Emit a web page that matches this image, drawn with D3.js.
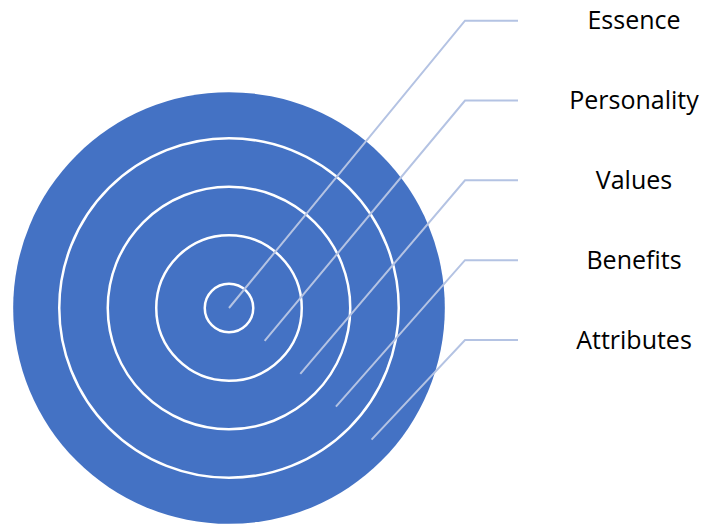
<!DOCTYPE html>
<html>
<head>
<meta charset="utf-8">
<script src="https://cdn.jsdelivr.net/npm/d3@7"></script>
<style>
	body { margin: 0; background: #fff; }
	svg { display: block; }
	text { font-family: "Open Sans", sans-serif; font-size: 25px; fill: #000; }
</style>
</head>
<body>
<div id="chart"></div>
<script>
// levels from the core outwards
var levels = ["Essence", "Personality", "Values", "Benefits", "Attributes"];
// ring boundaries in level units (white rings), and the outer edge of the disc
var ringBounds = [0.5, 1.5, 2.5, 3.5];
var outerBound = 4.45;
// where each leader line starts, in level units from the centre
var pointerDepth = [0, 1, 2, 3, 4];

var width = 704, height = 525;
var cx = 229, cy = 308;

var svg = d3.select("#chart").append("svg")
	.attr("width", width)
	.attr("height", height);

var r = d3.scaleLinear()
	.domain([0, 1])
	.range([0, 48.5]);

// label rows, top = Essence
var y = d3.scalePoint()
	.domain(levels)
	.range([20.7, 340])
	.padding(0);

var angle = 42.7 * Math.PI / 180;
var elbowX = 465, lineEnd = 518, labelX = 634;

svg.append("circle")
	.attr("cx", cx)
	.attr("cy", cy)
	.attr("r", r(outerBound))
	.attr("fill", "#4472C4");

svg.selectAll("circle.ring")
	.data(ringBounds)
	.enter()
	.append("circle")
	.attr("class", "ring")
	.attr("cx", cx)
	.attr("cy", cy)
	.attr("r", function(d) {
		return r(d);
	})
	.attr("fill", "none")
	.attr("stroke", "#fff")
	.attr("stroke-width", 2.5);

svg.selectAll("path.leader")
	.data(levels)
	.enter()
	.append("path")
	.attr("class", "leader")
	.attr("d", function(d, i) {
		var rr = r(pointerDepth[i]);
		var x0 = cx + rr * Math.cos(angle);
		var y0 = cy + rr * Math.sin(angle);
		return "M" + x0 + "," + y0 + "L" + elbowX + "," + y(d) + "L" + lineEnd + "," + y(d);
	})
	.attr("fill", "none")
	.attr("stroke", "#B4C3E3")
	.attr("stroke-width", 2);

svg.selectAll("text.label")
	.data(levels)
	.enter()
	.append("text")
	.attr("class", "label")
	.attr("x", labelX)
	.attr("y", function(d) {
		return y(d);
	})
	.attr("dy", "0.35em")
	.attr("text-anchor", "middle")
	.text(function(d) {
		return d;
	});
</script>
</body>
</html>
